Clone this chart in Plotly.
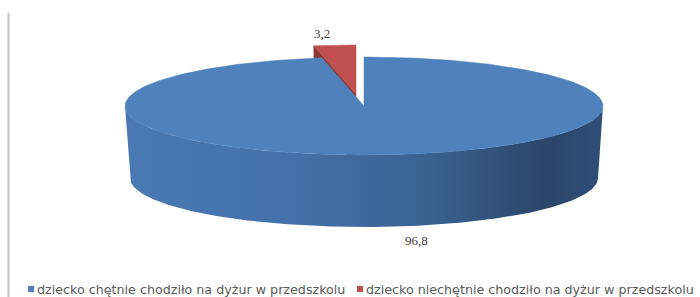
import numpy as np
import plotly.graph_objects as go

# ---------------- data ----------------
categories = [
    "dziecko chętnie chodziło na dyżur w przedszkolu",
    "dziecko niechętnie chodziło na dyżur w przedszkolu",
]
values = [96.8, 3.2]
value_labels = ["96,8", "3,2"]

# ---------------- styles / geometry ----------------
TOP_COLORS = ["#4F81BD", "#C0504D"]
FACE_COLORS = ["#3d6aa2", "#8e3835"]
SIDE_SCALE = [[0, "#4a79b3"], [0.35, "#4471aa"], [0.65, "#38618f"],
              [0.88, "#2b4669"], [1, "#2f4e78"]]
EXPLODE = [(0, 0), (-8, -12)]
LABEL_POS = [(416, 240), (322, 33)]
CX, CY = 364, 106
A_TOP, A_BOT, B, D = 239, 234, 49, 72
WARP = 0.06


def proj(theta, z=0.0, off=(0, 0)):
    p = theta - WARP * np.sin(2 * theta)
    a = A_TOP + (A_BOT - A_TOP) * z
    return CX + a * np.sin(p) + off[0], CY - B * np.cos(p) + z * D + off[1]


total = sum(values)
bounds = np.concatenate([[0], np.cumsum(values) / total * 2 * np.pi])

fig = go.Figure()
back_traces, front_traces = [], []

for i, v in enumerate(values):
    t0, t1 = bounds[i], bounds[i + 1]
    off = EXPLODE[i]
    n = max(int((t1 - t0) / (2 * np.pi) * 400), 12)
    th = np.linspace(t0, t1, n)
    ax_, ay_ = CX + off[0], CY + off[1]
    rx, ry = proj(th, 0, off)
    top_x = np.concatenate([[ax_], rx, [ax_]])
    top_y = np.concatenate([[ay_], ry, [ay_]])

    traces = []
    # visible radial face at start edge of an exploded slice (left edge)
    if off != (0, 0):
        sx0, sy0 = proj(t0, 0, off)
        sx1, sy1 = proj(t0, 1, off)
        traces.append(go.Scatter(
            x=[ax_, sx0, sx1, ax_, ax_], y=[ay_, sy0, sy1, ay_ + D, ay_],
            fill="toself", mode="lines", line=dict(width=0.5, color=FACE_COLORS[i]),
            fillcolor=FACE_COLORS[i], hoverinfo="skip", showlegend=False))
    # outer (front) side
    s0, s1 = max(t0, np.pi / 2), min(t1, 3 * np.pi / 2)
    if s1 > s0:
        ts = np.linspace(s0, s1, 200)
        ux, uy = proj(ts, 0, off)
        lx, ly = proj(ts[::-1], 1, off)
        traces.append(go.Scatter(
            x=np.concatenate([ux, lx, ux[:1]]), y=np.concatenate([uy, ly, uy[:1]]),
            fill="toself", mode="lines", line=dict(width=0),
            fillgradient=dict(type="horizontal", colorscale=SIDE_SCALE),
            hoverinfo="skip", showlegend=False))
    traces.append(go.Scatter(
        x=top_x, y=top_y, fill="toself", mode="lines",
        line=dict(width=0.5, color=TOP_COLORS[i]), fillcolor=TOP_COLORS[i],
        name=categories[i], hoverinfo="name", showlegend=False))
    if off != (0, 0):
        back_traces += traces
    else:
        front_traces += traces

for t in back_traces + front_traces:
    fig.add_trace(t)

# value labels
for i, lab in enumerate(value_labels):
    fig.add_annotation(x=LABEL_POS[i][0], y=LABEL_POS[i][1], text=lab, showarrow=False,
                       font=dict(family="Liberation Serif", size=13, color="#404040"),
                       xanchor="center", yanchor="middle")

# legend (manual, bottom)
LEG_X = [31, 360]
LEG_Y = 289
for i, cat in enumerate(categories):
    fig.add_trace(go.Scatter(x=[LEG_X[i]], y=[LEG_Y], mode="markers",
                             marker=dict(symbol="square", size=6, color=TOP_COLORS[i]),
                             hoverinfo="skip", showlegend=False))
    fig.add_annotation(x=LEG_X[i] + 4, y=LEG_Y, text=cat, showarrow=False,
                       xanchor="left", yanchor="middle",
                       font=dict(family="DejaVu Sans", size=12.7, color="#595959"))

fig.add_shape(type="line", x0=8.5, x1=8.5, y0=13, y1=297,
              line=dict(color="#c4c4c4", width=2), xref="x", yref="y")

fig.update_layout(
    width=700, height=297, margin=dict(l=0, r=0, t=0, b=0),
    paper_bgcolor="white", plot_bgcolor="white",
    xaxis=dict(range=[0, 700], visible=False, fixedrange=True),
    yaxis=dict(range=[297, 0], visible=False, fixedrange=True),
    showlegend=False,
)

fig.write_html("out.html", config={"displayModeBar": False},
               post_script="document.body.style.margin='0';document.body.style.overflow='hidden';")
